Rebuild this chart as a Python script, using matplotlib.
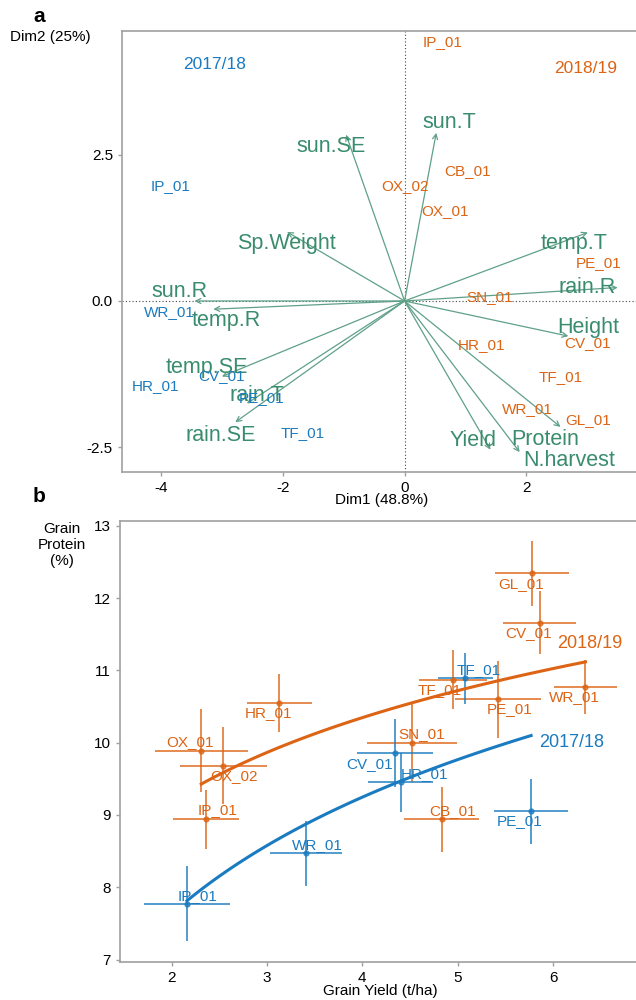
import numpy as np
import matplotlib
matplotlib.use("Agg")
import matplotlib.pyplot as plt

plt.rcParams['font.family'] = ['Liberation Sans', 'DejaVu Sans']

BLUE = '#1a7bc0'
ORANGE = '#dc6414'
GREEN = '#3a8c6e'
ARROW = '#5fa088'
GRAY = '#a0a0a0'

# ---- panel a: PCA biplot ----
ind_names = ['IP_01', 'WR_01', 'CV_01', 'HR_01', 'PE_01', 'TF_01',
             'IP_01', 'CB_01', 'OX_02', 'OX_01', 'PE_01', 'SN_01',
             'CV_01', 'HR_01', 'TF_01', 'WR_01', 'GL_01']
ind_season = ['2017/18'] * 6 + ['2018/19'] * 11
ind_x = [-3.85, -3.87, -3.01, -4.09, -2.35, -1.68,
         0.63, 1.03, 0.01, 0.67, 3.18, 1.39, 3.00, 1.26, 2.57, 2.02, 3.02]
ind_y = [1.97, -0.18, -1.28, -1.46, -1.66, -2.26,
         4.43, 2.22, 1.97, 1.54, 0.64, 0.06, -0.71, -0.76, -1.30, -1.85, -2.03]

var_names = ['sun.SE', 'sun.T', 'Sp.Weight', 'sun.R', 'temp.R', 'temp.SE',
             'rain.T', 'rain.SE', 'temp.T', 'rain.R', 'Height', 'Yield',
             'Protein', 'N.harvest']
var_x = [-0.96, 0.52, -1.93, -3.45, -3.14, -3.00, -2.59, -2.78,
         3.01, 3.50, 2.69, 1.41, 1.89, 2.56]
var_y = [2.84, 2.87, 1.18, 0.00, -0.14, -1.29, -1.75, -2.07,
         1.17, 0.23, -0.60, -2.54, -2.58, -2.15]
# repelled label positions
var_lx = [-1.20, 0.74, -1.94, -3.69, -2.93, -3.24, -2.42, -3.02,
          2.79, 3.00, 3.01, 1.13, 2.31, 2.71]
var_ly = [2.63, 3.05, 0.99, 0.17, -0.34, -1.14, -1.61, -2.29,
          0.99, 0.23, -0.45, -2.38, -2.36, -2.73]

# ---- panel b: yield vs protein ----
site = ['GL_01', 'CV_01', 'WR_01', 'PE_01', 'TF_01', 'SN_01', 'HR_01',
        'OX_01', 'OX_02', 'IP_01', 'CB_01',
        'TF_01', 'CV_01', 'HR_01', 'PE_01', 'WR_01', 'IP_01']
season = ['2018/19'] * 11 + ['2017/18'] * 6
yld = [5.78, 5.86, 6.34, 5.42, 4.95, 4.52, 3.13, 2.31, 2.54, 2.36, 4.83,
       5.08, 4.34, 4.40, 5.77, 3.41, 2.16]
yld_se = [0.385, 0.385, 0.33, 0.45, 0.36, 0.475, 0.34, 0.49, 0.455, 0.35, 0.39,
          0.29, 0.40, 0.345, 0.39, 0.38, 0.45]
prot = [12.34, 11.66, 10.77, 10.60, 10.87, 10.00, 10.55, 9.89, 9.68, 8.94, 8.94,
        10.89, 9.86, 9.45, 9.05, 8.47, 7.77]
prot_se = [0.45, 0.44, 0.37, 0.53, 0.41, 0.54, 0.40, 0.57, 0.53, 0.41, 0.45,
           0.35, 0.47, 0.41, 0.45, 0.45, 0.52]
lab_dx = [-0.12, -0.12, -0.12, 0.12, -0.14, 0.10, -0.11, -0.12, 0.11, 0.12, 0.12,
          0.14, -0.26, 0.25, -0.12, 0.12, 0.11]
lab_dy = [-0.14, -0.15, -0.14, -0.14, -0.14, 0.12, -0.14, 0.12, -0.14, 0.13, 0.12,
          0.12, -0.15, 0.11, -0.14, 0.11, 0.11]

colors = {'2017/18': BLUE, '2018/19': ORANGE}

fig = plt.figure(figsize=(6.36, 10), dpi=100)


def style_axes(ax):
    for s in ['left', 'bottom', 'top']:
        ax.spines[s].set_color(GRAY)
        ax.spines[s].set_linewidth(1.2)
    ax.spines['right'].set_visible(False)
    ax.tick_params(colors=GRAY, labelcolor='black', labelsize=11, length=3, width=1)


# panel a
ax1 = fig.add_axes([0.1918, 0.528, 0.8082, 0.441])
ax1.set_xlim(-4.64, 3.80)
ax1.set_ylim(-2.92, 4.61)
style_axes(ax1)
ax1.axhline(0, color='#444444', ls=(0, (1, 2)), lw=0.8, zorder=1)
ax1.axvline(0, color='#444444', ls=(0, (1, 2)), lw=0.8, zorder=1)

for x, y in zip(var_x, var_y):
    ax1.annotate('', xy=(x, y), xytext=(0, 0),
                 arrowprops=dict(arrowstyle='->', color=ARROW, lw=0.9,
                                 mutation_scale=9, shrinkA=0, shrinkB=0))
for name, x, y in zip(var_names, var_lx, var_ly):
    ax1.text(x, y, name, color=GREEN, fontsize=15.5, ha='center', va='center')
for name, s, x, y in zip(ind_names, ind_season, ind_x, ind_y):
    ax1.text(x, y, name, color=colors[s], fontsize=11, ha='center', va='center')

ax1.text(-3.12, 4.03, '2017/18', color=BLUE, fontsize=12.5, ha='center', va='center')
ax1.text(2.97, 3.97, '2018/19', color=ORANGE, fontsize=12.5, ha='center', va='center')

ax1.set_xticks([-4, -2, 0, 2])
ax1.set_xticklabels(['-4', '-2', '0', '2'])
ax1.set_yticks([-2.5, 0, 2.5])
ax1.set_yticklabels(['-2.5', '0.0', '2.5'])

fig.text(50 / 636, 1 - 37 / 1000, 'Dim2 (25%)', fontsize=11, ha='center', va='center')
fig.text(382 / 636, 1 - 500 / 1000, 'Dim1 (48.8%)', fontsize=11, ha='center', va='center')
fig.text(39 / 636, 1 - 17 / 1000, 'a', fontsize=15, fontweight='bold', ha='center', va='center')

# panel b
ax2 = fig.add_axes([0.1887, 0.0383, 0.8113, 0.4407])
ax2.set_xlim(1.458, 6.87)
ax2.set_ylim(6.97, 13.065)
style_axes(ax2)

yld = np.array(yld)
prot = np.array(prot)
season_arr = np.array(season)
for s in ['2018/19', '2017/18']:
    m = season_arr == s
    ax2.errorbar(yld[m], prot[m], xerr=np.array(yld_se)[m], yerr=np.array(prot_se)[m],
                 fmt='o', ms=3.5, color=colors[s], ecolor=colors[s], elinewidth=1.4,
                 alpha=0.75, capsize=0, zorder=2)
    # log fit protein ~ log(yield)
    b, a = np.polyfit(np.log(yld[m]), prot[m], 1)
    xs = np.linspace(yld[m].min(), yld[m].max(), 100)
    ax2.plot(xs, a + b * np.log(xs), color=colors[s], lw=2.2, zorder=3)

for name, s, x, y, dx, dy in zip(site, season, yld, prot, lab_dx, lab_dy):
    ax2.text(x + dx, y + dy, name, color=colors[s], fontsize=11,
             ha='center', va='center', zorder=4)

ax2.text(6.39, 11.37, '2018/19', color=ORANGE, fontsize=13, ha='center', va='center')
ax2.text(6.20, 10.00, '2017/18', color=BLUE, fontsize=13, ha='center', va='center')

ax2.set_xticks([2, 3, 4, 5, 6])
ax2.set_yticks([7, 8, 9, 10, 11, 12, 13])

fig.text(62 / 636, 1 - 545 / 1000, 'Grain\nProtein\n(%)', fontsize=11,
         ha='center', va='center', linespacing=1.15)
fig.text(380 / 636, 1 - 991 / 1000, 'Grain Yield (t/ha)', fontsize=11, ha='center', va='center')
fig.text(39 / 636, 1 - 497 / 1000, 'b', fontsize=15, fontweight='bold', ha='center', va='center')

fig.savefig('out.png', dpi=100)
